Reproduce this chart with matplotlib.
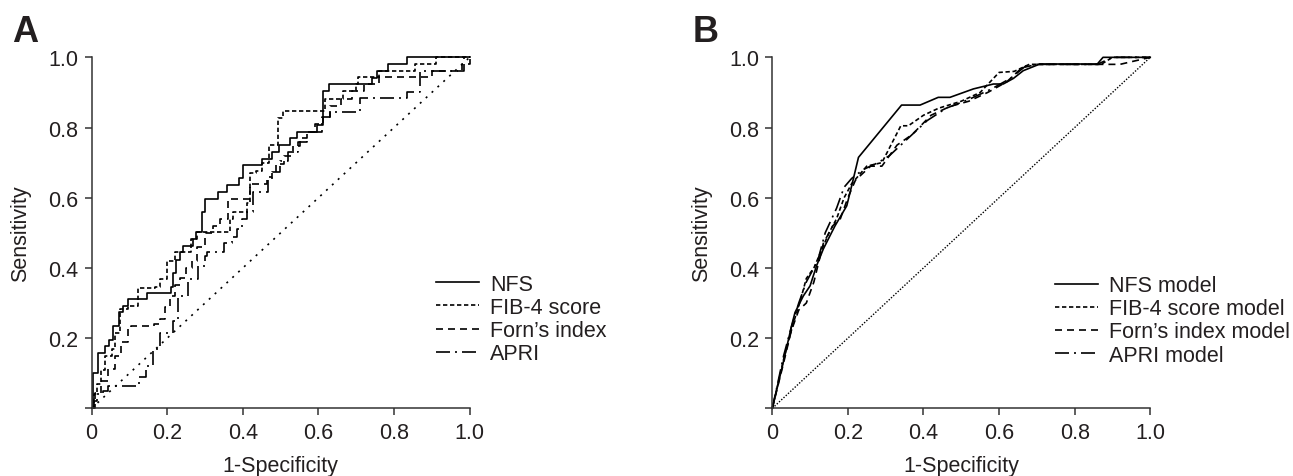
import matplotlib
matplotlib.use('Agg')
import matplotlib.pyplot as plt

plt.rcParams['font.family'] = ['Liberation Sans', 'DejaVu Sans']

TEXT = '#231f20'
AXC = '#333333'

# ---- panel A: empirical ROC curves (step points: x where the rise happens, new y)
nfs_a_fpr = [0, 0.004, 0.017, 0.035, 0.047, 0.057, 0.073, 0.082, 0.097, 0.147, 0.21, 0.216,
             0.223, 0.235, 0.242, 0.268, 0.276, 0.293, 0.30, 0.335, 0.357, 0.39, 0.40, 0.451,
             0.478, 0.495, 0.525, 0.542, 0.595, 0.612, 0.628, 0.741, 0.756, 0.785, 0.833, 1.0]
nfs_a_tpr = [0, 0.10, 0.158, 0.177, 0.195, 0.235, 0.273, 0.292, 0.311, 0.328, 0.347, 0.385,
             0.423, 0.445, 0.463, 0.482, 0.501, 0.558, 0.596, 0.617, 0.636, 0.655, 0.693, 0.71,
             0.731, 0.75, 0.769, 0.788, 0.807, 0.905, 0.923, 0.941, 0.962, 0.981, 1.0, 1.0]

fib4_a_fpr = [0, 0.005, 0.013, 0.025, 0.035, 0.053, 0.062, 0.075, 0.097, 0.123, 0.167, 0.181,
              0.198, 0.22, 0.264, 0.278, 0.344, 0.366, 0.375, 0.41, 0.42, 0.436, 0.45, 0.47,
              0.494, 0.505, 0.604, 0.617, 0.666, 0.70, 0.705, 0.76, 0.855, 0.91, 1.0]
fib4_a_tpr = [0, 0.04, 0.069, 0.11, 0.15, 0.169, 0.216, 0.283, 0.292, 0.344, 0.347, 0.368,
              0.421, 0.444, 0.482, 0.501, 0.501, 0.539, 0.558, 0.586, 0.67, 0.677, 0.70, 0.75,
              0.826, 0.847, 0.847, 0.881, 0.905, 0.923, 0.943, 0.962, 0.981, 1.0, 1.0]

forn_a_fpr = [0, 0.008, 0.025, 0.043, 0.061, 0.078, 0.096, 0.105, 0.165, 0.181, 0.195, 0.207,
              0.22, 0.235, 0.25, 0.265, 0.28, 0.30, 0.32, 0.34, 0.361, 0.419, 0.463, 0.476,
              0.489, 0.51, 0.533, 0.55, 0.569, 0.59, 0.613, 0.63, 0.66, 0.69, 0.72, 0.76,
              0.90, 0.98, 1.0]
forn_a_tpr = [0, 0.045, 0.079, 0.112, 0.15, 0.188, 0.226, 0.234, 0.24, 0.254, 0.29, 0.321,
              0.35, 0.37, 0.40, 0.42, 0.46, 0.50, 0.52, 0.54, 0.596, 0.64, 0.658, 0.672,
              0.696, 0.72, 0.748, 0.77, 0.786, 0.81, 0.83, 0.86, 0.88, 0.905, 0.925, 0.943,
              0.962, 0.981, 1.0]

apri_a_fpr = [0, 0.005, 0.015, 0.03, 0.043, 0.124, 0.145, 0.163, 0.181, 0.215, 0.228, 0.255,
              0.281, 0.299, 0.304, 0.349, 0.37, 0.384, 0.397, 0.41, 0.428, 0.467, 0.476,
              0.498, 0.52, 0.545, 0.57, 0.61, 0.63, 0.71, 0.833, 0.869, 0.985, 1.0]
apri_a_tpr = [0, 0.02, 0.04, 0.05, 0.064, 0.09, 0.121, 0.169, 0.216, 0.25, 0.32, 0.369,
              0.406, 0.435, 0.444, 0.47, 0.487, 0.511, 0.539, 0.558, 0.617, 0.654, 0.672,
              0.705, 0.73, 0.76, 0.786, 0.829, 0.845, 0.884, 0.90, 0.962, 1.0, 1.0]

# ---- panel B: model ROC curves (polylines)
nfs_b_fpr = [0, 0.029, 0.051, 0.06, 0.082, 0.10, 0.117, 0.135, 0.157, 0.166, 0.197, 0.21,
             0.228, 0.342, 0.391, 0.439, 0.47, 0.532, 0.585, 0.611, 0.638, 0.664, 0.708,
             0.86, 0.875, 1.0]
nfs_b_tpr = [0, 0.131, 0.235, 0.273, 0.32, 0.349, 0.406, 0.454, 0.501, 0.52, 0.577, 0.634,
             0.715, 0.864, 0.864, 0.886, 0.886, 0.91, 0.924, 0.924, 0.94, 0.962, 0.981,
             0.981, 1.0, 1.0]

fib4_b_fpr = [0, 0.03, 0.055, 0.075, 0.09, 0.11, 0.13, 0.15, 0.17, 0.19, 0.21, 0.23, 0.25,
              0.29, 0.34, 0.36, 0.40, 0.44, 0.50, 0.55, 0.60, 0.64, 0.68, 0.87, 0.90, 1.0]
fib4_b_tpr = [0, 0.14, 0.24, 0.31, 0.37, 0.40, 0.45, 0.50, 0.54, 0.60, 0.64, 0.665, 0.69,
              0.70, 0.805, 0.805, 0.835, 0.855, 0.875, 0.90, 0.957, 0.96, 0.98, 0.98, 1.0, 1.0]

forn_b_fpr = [0, 0.03, 0.05, 0.07, 0.09, 0.11, 0.135, 0.16, 0.18, 0.20, 0.22, 0.26, 0.29,
              0.33, 0.37, 0.42, 0.47, 0.52, 0.57, 0.62, 0.66, 0.70, 0.92, 1.0]
forn_b_tpr = [0, 0.13, 0.22, 0.28, 0.30, 0.36, 0.47, 0.52, 0.54, 0.60, 0.65, 0.69, 0.69,
              0.75, 0.78, 0.835, 0.86, 0.875, 0.90, 0.93, 0.97, 0.98, 0.98, 1.0]

apri_b_fpr = [0, 0.03, 0.05, 0.07, 0.09, 0.12, 0.14, 0.17, 0.19, 0.21, 0.24, 0.28, 0.31,
              0.36, 0.41, 0.46, 0.52, 0.58, 0.63, 0.67, 0.70, 0.86, 0.90, 1.0]
apri_b_tpr = [0, 0.15, 0.23, 0.30, 0.36, 0.42, 0.50, 0.57, 0.63, 0.655, 0.68, 0.70, 0.72,
              0.77, 0.82, 0.855, 0.88, 0.91, 0.94, 0.975, 0.98, 0.98, 1.0, 1.0]

ref_line = [0, 1]
ticks = [0, 0.2, 0.4, 0.6, 0.8, 1.0]
xtick_labels = ['0', '0.2', '0.4', '0.6', '0.8', '1.0']
ytick_labels = ['', '0.2', '0.4', '0.6', '0.8', '1.0']

labels_a = ['NFS', 'FIB-4 score', 'Forn\u2019s index', 'APRI']
labels_b = ['NFS model', 'FIB-4 score model', 'Forn\u2019s index model', 'APRI model']

styles = ['-', (0, (2.6, 1.6)), (0, (4.2, 3.0)), (0, (8.4, 3.0, 1.2, 3.0))]
LW = 1.2
FS = 15.5


def style_axes(ax):
    ax.set_xlim(0, 1)
    ax.set_ylim(0, 1)
    for s in ['top', 'right']:
        ax.spines[s].set_visible(False)
    for s in ['left', 'bottom']:
        ax.spines[s].set_color(AXC)
        ax.spines[s].set_linewidth(1.1)
    ax.set_xticks(ticks)
    ax.set_xticklabels(xtick_labels)
    ax.set_yticks(ticks)
    ax.set_yticklabels(ytick_labels)
    ax.tick_params(axis='both', colors=AXC, labelcolor=TEXT, length=5, width=1.1,
                   labelsize=FS)
    ax.tick_params(axis='x', pad=4.5)
    ax.tick_params(axis='y', pad=4.5)
    ax.set_xlabel('1-Specificity', fontsize=FS, color=TEXT)
    ax.set_ylabel('Sensitivity', fontsize=FS, color=TEXT)
    ax.xaxis.set_label_coords(0.5, -0.133)
    ax.yaxis.set_label_coords(-0.16, 0.5)


fig = plt.figure(figsize=(12.93, 4.77), dpi=100)
ax1 = fig.add_axes([0.0709, 0.1419, 0.2923, 0.7358])
ax2 = fig.add_axes([0.5973, 0.1419, 0.2923, 0.7358])

# 左图：阶梯ROC
curves_a = [(nfs_a_fpr, nfs_a_tpr), (fib4_a_fpr, fib4_a_tpr),
            (forn_a_fpr, forn_a_tpr), (apri_a_fpr, apri_a_tpr)]
handles = []
for (x, y), ls, lab in zip(curves_a, styles, labels_a):
    h, = ax1.plot(x, y, color='black', linestyle=ls, linewidth=LW, drawstyle='steps-post',
                  label=lab, clip_on=False)
    handles.append(h)
ax1.plot(ref_line, ref_line, color='black', linestyle=(0, (1.2, 3.6)), linewidth=LW,
         clip_on=False)
style_axes(ax1)
ax1.legend(handles=handles, loc='upper left', bbox_to_anchor=(0.3372, 0.424),
           bbox_transform=fig.transFigure, frameon=False, fontsize=FS, borderpad=0,
           borderaxespad=0, handlelength=2.0, handletextpad=0.5, labelspacing=0.1,
           labelcolor=TEXT)

# 右图：模型ROC
curves_b = [(nfs_b_fpr, nfs_b_tpr), (fib4_b_fpr, fib4_b_tpr),
            (forn_b_fpr, forn_b_tpr), (apri_b_fpr, apri_b_tpr)]
handles = []
for (x, y), ls, lab in zip(curves_b, styles, labels_b):
    h, = ax2.plot(x, y, color='black', linestyle=ls, linewidth=LW, label=lab, clip_on=False)
    handles.append(h)
ax2.plot(ref_line, ref_line, color='black', linestyle=(0, (1.0, 1.2)), linewidth=1.0,
         clip_on=False)
style_axes(ax2)
ax2.legend(handles=handles, loc='upper left', bbox_to_anchor=(0.8159, 0.421),
           bbox_transform=fig.transFigure, frameon=False, fontsize=FS, borderpad=0,
           borderaxespad=0, handlelength=2.0, handletextpad=0.5, labelspacing=0.1,
           labelcolor=TEXT)

fig.text(0.009, 0.9126, 'A', fontsize=26, fontweight='bold', color=TEXT, va='baseline')
fig.text(0.536, 0.9126, 'B', fontsize=26, fontweight='bold', color=TEXT, va='baseline')

fig.savefig('out.png', dpi=100)
